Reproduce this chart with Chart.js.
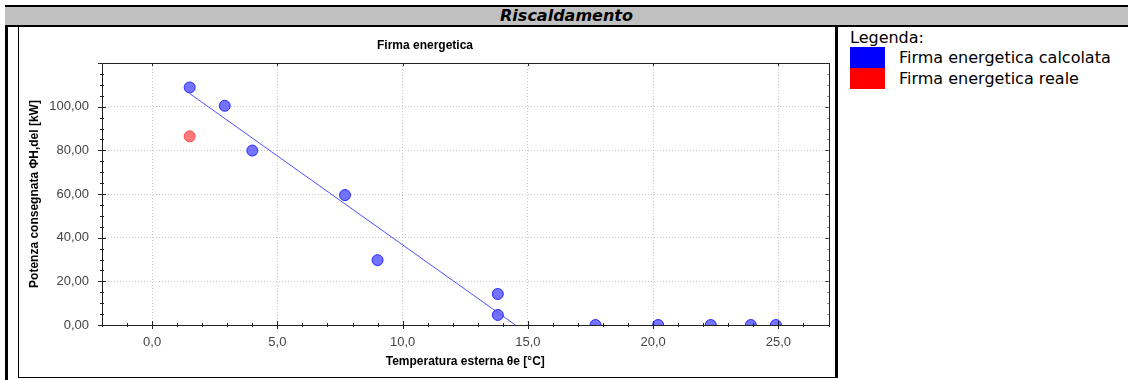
<!DOCTYPE html>
<html>
<head>
<meta charset="utf-8">
<script src="https://cdn.jsdelivr.net/npm/chart.js@4/dist/chart.umd.min.js"></script>
<style>
  body { margin: 0; background: #fff; width: 1128px; height: 380px; overflow: hidden; position: relative; font-family: "DejaVu Sans", sans-serif; }
  #header { position: absolute; left: 5px; top: 5px; width: 1123px; height: 18px; background: #c0c0c0;
    border-top: 2px solid #000; border-bottom: 2px solid #000; text-align: center;
    font: italic bold 16px "DejaVu Sans", sans-serif; line-height: 18px; }
  #leftBar { position: absolute; left: 5px; top: 27px; width: 3px; height: 353px; background: #000; }
  #box { position: absolute; left: 18px; top: 27px; width: 816px; height: 350px;
    border-left: 1px solid #000; border-bottom: 1px solid #000; border-right: 3px solid #000; }
  #wrap { position: absolute; left: 0; top: 0; width: 816px; height: 350px; }
  #legend { position: absolute; left: 850px; top: 28px; font: 16px "DejaVu Sans", sans-serif; color: #000; }
  .item { height: 21px; line-height: 21px; position: relative; }
  .sw { position: absolute; left: 0; top: 0; width: 35px; height: 21px; }
  .lbl { position: absolute; left: 49px; top: 0; white-space: nowrap; }
</style>
</head>
<body>
<div id="header">Riscaldamento</div>
<div id="leftBar"></div>
<div id="box"><div id="wrap"><canvas id="chartFirma"></canvas></div></div>
<div id="legend">
  <div style="height:19px;line-height:19px">Legenda:</div>
  <div class="item"><div class="sw" style="background:#0000ff"></div><div class="lbl">Firma energetica calcolata</div></div>
  <div class="item"><div class="sw" style="background:#ff0000"></div><div class="lbl">Firma energetica reale</div></div>
</div>
<script>
// valori
const tempCalcolata = [1.5, 2.9, 4.0, 7.7, 9.0, 13.8, 13.8, 17.7, 20.2, 22.3, 23.9, 24.9];
const potCalcolata = [108.8, 100.4, 79.9, 59.5, 29.7, 14.2, 4.6, 0, 0, 0, 0, 0];
const tempReale = [1.5];
const potReale = [86.4];
const tempRetta = [1.5, 14.5];
const potRetta = [106, 0];

function toPoints(xs, ys) {
  return xs.map((x, i) => ({ x: x, y: ys[i] }));
}

const tickFont = { family: 'Liberation Sans', size: 13 };
const titleFont = { family: 'Liberation Sans', size: 12, weight: 'bold' };

// tacche su tutti e quattro i lati + cornice
const frameTicks = {
  id: 'frameTicks',
  afterDraw: chart => {
    const ctx = chart.ctx;
    const { left, right, top, bottom } = chart.chartArea;
    const xs = chart.scales.x, ys = chart.scales.y;
    ctx.save();
    ctx.setLineDash([]);
    ctx.strokeStyle = '#222';
    ctx.lineWidth = 1;
    ctx.strokeRect(Math.round(left) + 0.5, Math.round(top) + 0.5, Math.round(right - left), Math.round(bottom - top));
    ctx.beginPath();
    xs.ticks.forEach(t => {
      const px = Math.round(xs.getPixelForValue(t.value)) + 0.5;
      const l = t.value % 5 === 0 ? 4 : 2;
      ctx.moveTo(px, bottom - l); ctx.lineTo(px, bottom + l);
      ctx.moveTo(px, top); ctx.lineTo(px, top + l - 1);
    });
    ys.ticks.forEach(t => {
      const py = Math.round(ys.getPixelForValue(t.value)) + 0.5;
      const l = t.value % 20 === 0 ? 4 : 2;
      ctx.moveTo(left - l, py); ctx.lineTo(left + l, py);
      ctx.moveTo(right, py); ctx.lineTo(right - l + 1, py);
    });
    ctx.stroke();
    ctx.restore();
  }
};

const chartFirma = new Chart(document.getElementById('chartFirma'), {
  type: 'scatter',
  plugins: [frameTicks],
  data: {
    datasets: [{
      label: 'Firma energetica calcolata',
      data: toPoints(tempCalcolata, potCalcolata),
      backgroundColor: 'rgba(90, 90, 255, 0.85)',
      borderColor: 'rgba(30, 30, 255, 0.9)',
      borderWidth: 1,
      pointRadius: 5.5,
      clip: 0
    }, {
      label: 'Firma energetica reale',
      data: toPoints(tempReale, potReale),
      backgroundColor: 'rgba(255, 100, 100, 0.85)',
      borderColor: 'rgba(255, 60, 60, 0.9)',
      borderWidth: 1,
      pointRadius: 5.5,
      clip: 0
    }, {
      type: 'line',
      label: 'Retta',
      data: toPoints(tempRetta, potRetta),
      borderColor: '#5050ff',
      borderWidth: 1,
      pointRadius: 0,
      fill: false,
      clip: 0
    }]
  },
  options: {
    responsive: true,
    maintainAspectRatio: false,
    animation: false,
    events: [],
    layout: { padding: { left: 0, right: 4, top: 0, bottom: 0 } },
    plugins: {
      legend: { display: false },
      tooltip: { enabled: false },
      title: {
        display: true,
        text: 'Firma energetica',
        color: '#000',
        font: titleFont,
        padding: { top: 11, bottom: 10.6 }
      }
    },
    scales: {
      x: {
        type: 'linear',
        min: -2,
        max: 27,
        afterFit: s => { s.height = 52; s.paddingLeft = 0; s.paddingRight = 0; },
        ticks: {
          stepSize: 1,
          autoSkip: false,
          maxRotation: 0,
          padding: 10,
          color: '#444',
          font: tickFont,
          callback: v => (v % 5 === 0 ? v.toFixed(1).replace('.', ',') : '')
        },
        grid: {
          drawTicks: false,
          color: c => (c.tick && c.tick.value % 5 === 0 ? '#c8c8c8' : 'rgba(0,0,0,0)')
        },
        border: { display: false, dash: [1, 2] },
        title: { display: true, text: 'Temperatura esterna θe [°C]', color: '#000', font: titleFont, padding: { top: 0, bottom: 8 } }
      },
      y: {
        type: 'linear',
        min: 0,
        max: 120,
        afterFit: s => { s.width = 83; s.paddingTop = 0; s.paddingBottom = 0; },
        ticks: {
          stepSize: 5,
          autoSkip: false,
          padding: 13,
          color: '#444',
          font: tickFont,
          callback: v => (v % 20 === 0 && v <= 100 ? v.toFixed(2).replace('.', ',') : '')
        },
        grid: {
          drawTicks: false,
          color: c => (c.tick && c.tick.value % 20 === 0 && c.tick.value > 0 && c.tick.value < 120 ? '#c8c8c8' : 'rgba(0,0,0,0)')
        },
        border: { display: false, dash: [1, 2] },
        title: { display: true, text: 'Potenza consegnata ΦH,del [kW]', color: '#000', font: titleFont, padding: { top: 8, bottom: 0 } }
      }
    }
  }
});
</script>
</body>
</html>
